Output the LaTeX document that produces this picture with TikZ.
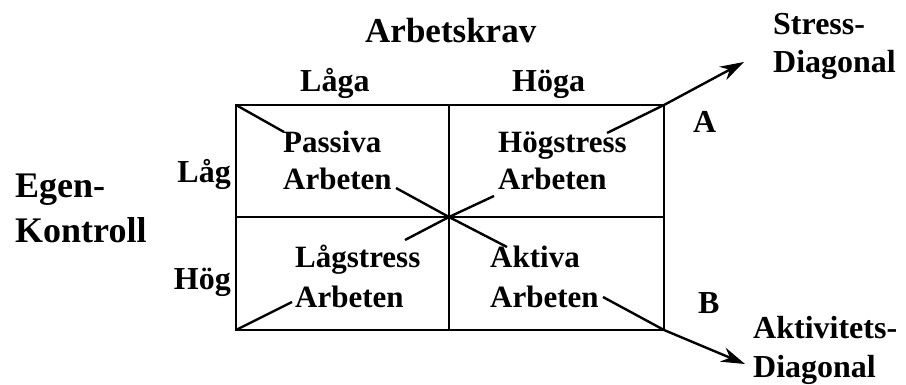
\documentclass[tikz,border=0pt]{standalone}
\usepackage{fontspec}
\setmainfont{Liberation Serif}
\usetikzlibrary{arrows.meta}
\begin{document}
\begin{tikzpicture}[x=1pt,y=-1pt,
  lbl/.style={font=\bfseries\fontsize{32}{32}\selectfont, inner sep=0pt, anchor=base west},
  qtxt/.style={font=\bfseries\fontsize{31}{31}\selectfont, inner sep=0pt, anchor=base west},
  frame/.style={line width=2.8pt},
  diag/.style={line width=2.4pt},
  arr/.style={line width=2.4pt, -{Stealth[length=24pt,width=15pt]}}]
\useasboundingbox[fill=white] (0,0) rectangle (906,385);

% grid
\coordinate (tl) at (236,105);
\coordinate (tr) at (664,105);
\coordinate (bl) at (236,330);
\coordinate (br) at (664,330);
\coordinate (mt) at (449,105);
\coordinate (mb) at (449,330);
\coordinate (ml) at (236,217);
\coordinate (mr) at (664,217);
\coordinate (c) at (449,217);
\draw[frame] (tl) rectangle (br);
\draw[frame] (mt) -- (mb);
\draw[frame] (ml) -- (mr);

% labels
\node[lbl, font=\bfseries\fontsize{35}{35}\selectfont] (arb) at (365,43) {Arbetskrav};
\node[lbl] (laga) at (300,92) {Låga};
\node[lbl] (hoga) at (512,92) {Höga};
\node[lbl] (stress1) at (773,35) {Stress-};
\node[lbl] (stress2) at (773,73) {Diagonal};
\node[lbl] (A) at (693,133) {A};
\node[lbl] (B) at (698,313) {B};
\node[lbl] (akt1) at (753,338) {Aktivitets-};
\node[lbl] (akt2) at (753,377) {Diagonal};
\node[lbl, font=\bfseries\fontsize{36}{36}\selectfont] (egen) at (15,198) {Egen-};
\node[lbl, font=\bfseries\fontsize{36}{36}\selectfont] (kontroll) at (15,243) {Kontroll};
\node[lbl, anchor=base east] (lag) at (231,183) {Låg};
\node[lbl, anchor=base east] (hog) at (231,290) {Hög};

% quadrant texts
\node[qtxt] (pas1) at (283,153) {Passiva};
\node[qtxt] (pas2) at (283,190) {Arbeten};
\node[qtxt] (hs1) at (498,153) {Högstress};
\node[qtxt] (hs2) at (498,190) {Arbeten};
\node[qtxt] (ls1) at (295,268) {Lågstress};
\node[qtxt] (ls2) at (295,307) {Arbeten};
\node[qtxt] (ak1) at (490,268) {Aktiva};
\node[qtxt] (ak2) at (490,307) {Arbeten};

% diagonal ends
\coordinate (s1) at (284,132);
\coordinate (s2) at (396,188);
\coordinate (s3) at (507,247);
\coordinate (s4) at (603,297);
\coordinate (sEnd) at (745,364);
\coordinate (a1) at (292,302);
\coordinate (a2) at (405,240);
\coordinate (a3) at (494,196);
\coordinate (a4) at (607,133);
\coordinate (aEnd) at (744,62);

\draw[diag] (tl) -- (s1);
\draw[diag] (s2) -- (c) -- (s3);
\draw[diag] (s4) -- (br);
\draw[arr] (br) -- (sEnd);
\draw[diag] (bl) -- (a1);
\draw[diag] (a2) -- (c) -- (a3);
\draw[diag] (a4) -- (tr);
\draw[arr] (tr) -- (aEnd);
\end{tikzpicture}
\end{document}
